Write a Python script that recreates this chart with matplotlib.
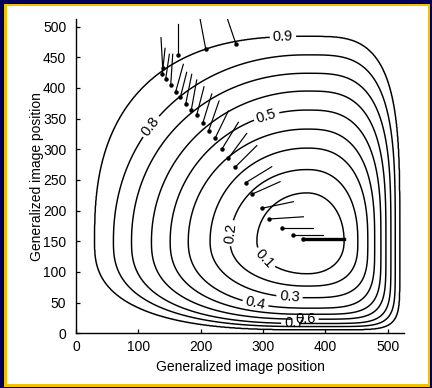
import numpy as np
import matplotlib.pyplot as plt
from matplotlib.patches import Rectangle

plt.rcParams["font.family"] = ["Liberation Sans", "DejaVu Sans"]

# contour levels and where each level crosses the lines through the minimum
levels = [0.1, 0.2, 0.3, 0.4, 0.5, 0.6, 0.7, 0.8, 0.9]
center_x, center_y = 370, 150
left_cross = [290, 247, 215, 180, 151, 121, 89, 60, 30]
right_cross = [430, 452, 468, 479, 489, 497, 505, 512, 519]
top_cross = [229, 267, 302, 333, 364, 395, 424, 454, 484]
bottom_cross = [97, 77, 58, 41, 31, 23, 16, 11, 6]
# how square each contour is in each quadrant (superellipse exponent)
p_tl = [2.0, 2.0, 2.0, 2.0, 2.0, 2.0, 2.05, 2.1, 2.55]
p_tr = [2.1, 2.3, 2.5, 2.7, 2.9, 3.1, 3.3, 3.5, 3.7]
p_br = [2.2, 2.8, 3.4, 4.0, 4.7, 5.4, 6.2, 7.0, 8.0]
p_bl = [2.0, 2.1, 2.2, 2.3, 2.4, 2.5, 2.55, 2.6, 2.7]

# contour label positions
label_levels = [0.9, 0.8, 0.5, 0.2, 0.1, 0.4, 0.3, 0.7, 0.6]
label_x = [332, 124, 306, 252, 303, 289, 342, 350, 368]
label_y = [481, 334, 352, 163, 122, 54, 57, 17, 25]

# needles: tail end and dot end
needle_x0 = [198.9, 242.7, 164.1,
             136.3, 142.8, 149.7, 155.1, 172.1, 177.5, 185.6, 193.6, 205.3, 217.7,
             229.4, 244.3, 260.4, 273.8, 289.9, 313.9, 327.2, 348.6, 364.6, 380.7,
             396.7, 430.0]
needle_y0 = [513, 513, 503.8,
             482, 464.7, 455, 455, 438.6, 425.6, 422.3, 413, 402, 390.2,
             378.8, 362.5, 344, 326, 306, 271.6, 247.2, 214.6, 190, 172.2,
             160.3, 153]
needle_x1 = [208.0, 256.7, 164.1,
             139.0, 138.4, 143.8, 151.9, 159.9, 167.3, 176.0, 185.0, 193.6, 203.2,
             212.8, 223.0, 233.7, 244.3, 255.0, 272.2, 282.8, 297.9, 310.1, 330.0,
             347.6, 364.6]
needle_y1 = [463.6, 471.2, 453.8,
             433.1, 422.3, 414.6, 404.9, 394, 384.8, 374.4, 364.6, 356, 342.4,
             330.4, 318, 300, 285.3, 270.7, 245.6, 227.1, 203.8, 186.4, 172.2,
             160.3, 153]


def level_field(X, Y):
    dx = X - center_x
    dy = Y - center_y
    logs = []
    for k in range(len(levels)):
        a = np.where(dx < 0, center_x - left_cross[k], right_cross[k] - center_x)
        b = np.where(dy > 0, top_cross[k] - center_y, center_y - bottom_cross[k])
        p = np.select([(dx < 0) & (dy >= 0), (dx >= 0) & (dy >= 0), (dx >= 0) & (dy < 0)],
                      [p_tl[k], p_tr[k], p_br[k]], p_bl[k])
        g = ((np.abs(dx) / a) ** p + (np.abs(dy) / b) ** p) ** (1 / p)
        logs.append(np.log(g + 1e-9))
    G = np.array(logs)
    Z = np.full(X.shape, np.nan)
    m = G[0] < 0
    Z[m] = levels[0] * np.exp(G[0][m])
    for k in range(len(levels) - 1):
        m = (G[k] >= 0) & (G[k + 1] < 0)
        t = G[k][m] / (G[k][m] - G[k + 1][m])
        Z[m] = levels[k] + 0.1 * t
    m = G[-1] >= 0
    Z[m] = levels[-1] + 0.1 * G[-1][m]
    return Z


xs = np.linspace(0, 526, 800)
ys = np.linspace(0, 512, 800)
X, Y = np.meshgrid(xs, ys)
Z = level_field(X, Y)

fig = plt.figure(figsize=(4.32, 3.88), dpi=100)
fig.patch.set_facecolor("#00005a")
fig.patches.append(Rectangle((4 / 432, 1.3 / 388), 426 / 432, 382.7 / 388,
                             transform=fig.transFigure, facecolor="#f2c200",
                             edgecolor="none", zorder=-2))
fig.patches.append(Rectangle((6.5 / 432, 4 / 388), 421.2 / 432, 378 / 388,
                             transform=fig.transFigure, facecolor="white",
                             edgecolor="none", zorder=-1))

ax = fig.add_axes([76 / 432, 54.7 / 388, 328 / 432, 314 / 388])
ax.set_facecolor("none")
ax.set_xlim(0, 526)
ax.set_ylim(0, 512)

cs = ax.contour(X, Y, Z, levels=levels, colors="black", linewidths=1.05)

# snap each label position onto its own contour so the right level gets it
spots = []
for lev, lx, ly in zip(label_levels, label_x, label_y):
    pts = np.vstack(cs.allsegs[levels.index(lev)])
    i = np.argmin((pts[:, 0] - lx) ** 2 + (pts[:, 1] - ly) ** 2)
    spots.append((pts[i, 0], pts[i, 1]))
ax.clabel(cs, manual=spots, fmt="%.1f", fontsize=10.5, inline=True, inline_spacing=3)

for x0, y0, x1, y1 in zip(needle_x0, needle_y0, needle_x1, needle_y1):
    lw = 2.4 if x0 == 430.0 else 0.85
    ax.plot([x0, x1], [y0, y1], color="black", linewidth=lw)
    ax.plot([x1], [y1], "o", color="black", markersize=2.2)

ax.set_xticks([0, 100, 200, 300, 400, 500])
ax.set_yticks(np.arange(0, 501, 50))
ax.spines["top"].set_visible(False)
ax.spines["right"].set_visible(False)
for s in ("left", "bottom"):
    ax.spines[s].set_linewidth(1.0)
ax.tick_params(direction="in", length=3, width=0.9, labelsize=10)
ax.tick_params(axis="x", pad=5)
ax.tick_params(axis="y", pad=7)
ax.set_xlabel("Generalized image position", fontsize=10, labelpad=4)
ax.set_ylabel("Generalized image position", fontsize=10, labelpad=-1)

fig.savefig("out.png", dpi=100, facecolor=fig.get_facecolor())
